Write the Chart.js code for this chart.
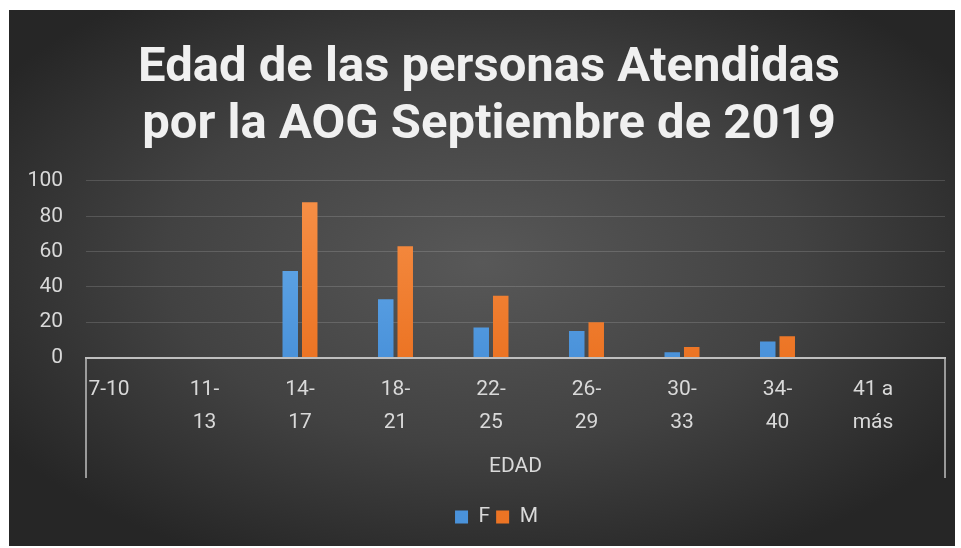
<!DOCTYPE html>
<html>
<head>
<meta charset="utf-8">
<script src="https://cdn.jsdelivr.net/npm/chart.js@4.4.1/dist/chart.umd.min.js"></script>
<style>
  html, body { margin: 0; padding: 0; background: #ffffff; }
  #wrap { position: absolute; left: 9px; top: 10px; width: 946px; height: 536px; }
</style>
</head>
<body>
<div id="wrap"><canvas id="c" width="946" height="536"></canvas></div>
<script>
// ---- data ----
const categories = ['7-10', '11-13', '14-17', '18-21', '22-25', '26-29', '30-33', '34-40', '41 a más'];
const tickLabels = [['7-10'], ['11-', '13'], ['14-', '17'], ['18-', '21'], ['22-', '25'], ['26-', '29'], ['30-', '33'], ['34-', '40'], ['41 a', 'más']];
const seriesF = [0, 0, 49, 33, 17, 15, 3, 9, 0];
const seriesM = [0, 0, 88, 63, 35, 20, 6, 12, 0];
const yTicks = [0, 20, 40, 60, 80, 100];
const titleLines = ['Edad de las personas Atendidas', 'por la AOG Septiembre de 2019'];
const axisTitle = 'EDAD';

const FONT = 'Roboto';
const TXT = '#d9d9d9';

const bgPlugin = {
  id: 'bg',
  beforeDraw(chart) {
    const ctx = chart.ctx, w = chart.width, h = chart.height;
    ctx.save();
    ctx.translate(w * 0.5, h * 0.47);
    ctx.scale(1.75, 1);
    const g = ctx.createRadialGradient(0, 0, 0, 0, 0, 330);
    g.addColorStop(0, '#585858');
    g.addColorStop(0.55, '#424242');
    g.addColorStop(1, '#262626');
    ctx.fillStyle = g;
    ctx.fillRect(-w, -h, 2 * w, 2 * h);
    ctx.restore();
  }
};

// nudge title and legend horizontally to match the original placement
const shiftPlugin = {
  id: 'shift',
  afterLayout(chart) {
    if (chart.titleBlock) { chart.titleBlock.left += 7; chart.titleBlock.right += 7; }
    if (chart.legend) { chart.legend.left += 14.5; chart.legend.right += 14.5; }
  }
};

const boxPlugin = {
  id: 'axisBox',
  afterDraw(chart) {
    const x = chart.scales.x, a = chart.chartArea, ctx = chart.ctx;
    const bottom = x.bottom - 22.5;
    ctx.save();
    ctx.strokeStyle = '#bfbfbf';
    ctx.lineWidth = 1.5;
    ctx.beginPath();
    ctx.moveTo(x.left, a.bottom); ctx.lineTo(x.left, bottom);
    ctx.moveTo(x.right, a.bottom); ctx.lineTo(x.right, bottom);
    ctx.stroke();
    ctx.restore();
  }
};

function grad(top, bottom) {
  return (c) => {
    const a = c.chart.chartArea;
    if (!a) return bottom;
    const g = c.chart.ctx.createLinearGradient(0, a.top, 0, a.bottom);
    g.addColorStop(0, top);
    g.addColorStop(1, bottom);
    return g;
  };
}

new Chart(document.getElementById('c'), {
  type: 'bar',
  data: {
    datasets: [
      { label: 'F', data: seriesF.map((v, i) => ({ x: i, y: v })), backgroundColor: grad('#6cb0ee', '#4a92da'),
        categoryPercentage: 0.408, barPercentage: 0.795 },
      { label: 'M', data: seriesM.map((v, i) => ({ x: i, y: v })), backgroundColor: grad('#f7924a', '#ec7424'),
        categoryPercentage: 0.408, barPercentage: 0.795 }
    ]
  },
  options: {
    responsive: false,
    animation: false,
    layout: { padding: { left: 10, right: 10, top: 0, bottom: 8.5 } },
    plugins: {
      title: {
        display: true,
        text: titleLines,
        color: '#f0f0f0',
        font: { family: FONT, size: 49, weight: 'bold', lineHeight: 1.163 },
        padding: { top: 30.5, bottom: 26.5 }
      },
      legend: {
        display: true,
        position: 'bottom',
        labels: { color: TXT, font: { family: FONT, size: 21 }, boxWidth: 13, boxHeight: 13, padding: 6 }
      },
      tooltip: { enabled: false }
    },
    scales: {
      x: {
        type: 'linear',
        offset: false,
        min: -0.2408,
        max: 8.754,
        afterBuildTicks(s) { s.ticks = categories.map((_, i) => ({ value: i })); },
        afterFit(s) { s.height = 143; },
        grid: { display: false, drawTicks: false },
        border: { display: true, color: '#bfbfbf', width: 2 },
        ticks: {
          autoSkip: false, maxRotation: 0, minRotation: 0,
          color: TXT, padding: 15.5,
          font: { family: FONT, size: 21, lineHeight: 1.571 },
          callback: (v) => tickLabels[v]
        },
        title: {
          display: true, text: axisTitle, color: TXT,
          font: { family: FONT, size: 21, lineHeight: 1 },
          padding: { top: 0, bottom: 23 }
        }
      },
      y: {
        min: 0, max: 100,
        afterBuildTicks(s) { s.ticks = yTicks.map(v => ({ value: v })); },
        afterFit(s) { s.width = 67; },
        grid: { color: 'rgba(255,255,255,0.15)', lineWidth: 1, drawTicks: false },
        border: { display: false },
        ticks: { color: TXT, padding: 23, font: { family: FONT, size: 21 } }
      }
    }
  },
  plugins: [bgPlugin, shiftPlugin, boxPlugin]
});
</script>
</body>
</html>
